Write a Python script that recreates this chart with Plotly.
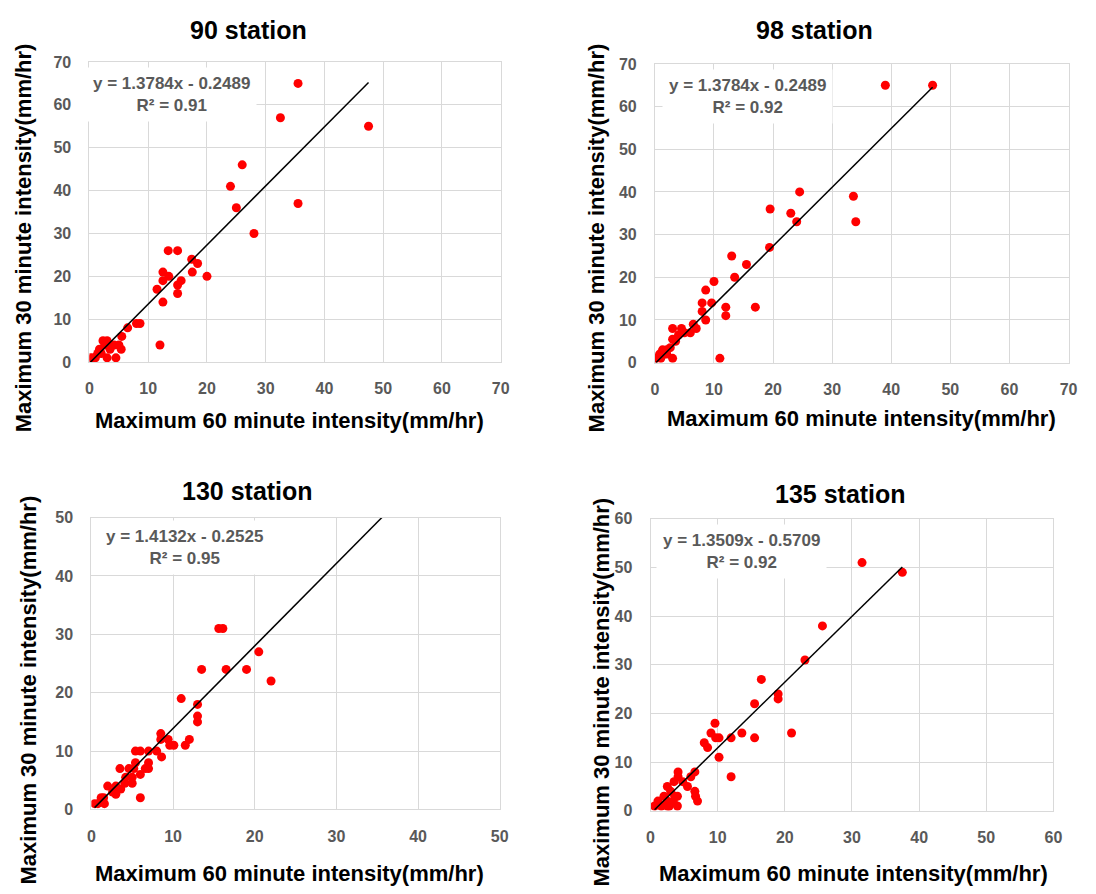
import plotly.graph_objects as go

W, H = 1096, 894

# ---- data -------------------------------------------------------------
stations = ["90 station", "98 station", "130 station", "135 station"]

x_90 = [35.5, 32.5, 47.5, 26.0, 24.0, 25.0, 35.5, 28.0, 13.4, 15.0, 17.4, 18.4,
        12.5, 17.5, 13.5, 20.0, 12.5, 15.6, 15.0, 11.5, 15.0, 12.5, 8.0, 8.6,
        6.5, 5.5, 12.0, 2.3, 3.0, 4.2, 5.4, 3.0, 4.5, 0.1, 0.6, 1.7, 1.4, 3.7,
        2.6, 1.0, 2.0, 3.5, 5.0]
y_90 = [65, 57, 55, 46, 41, 36, 37, 30, 26, 26, 24, 23,
        21, 21, 20, 20, 19, 19, 18, 17, 16, 14, 9, 9,
        8, 6, 4, 5, 5, 4, 3, 1, 1, 1, 1, 3, 2, 4,
        4, 1, 2, 3, 4]

x_98 = [39.0, 47.0, 24.5, 33.6, 34.0, 19.5, 23.0, 24.0, 19.4, 13.0, 15.5, 13.5,
        10.0, 8.6, 8.0, 9.6, 8.0, 8.6, 12.0, 12.0, 17.0, 11.0, 6.5, 7.0,
        3.0, 4.5, 6.0, 3.0, 4.0, 3.0, 0.8, 1.3, 0.2, 2.6, 2.0, 1.0, 2.0, 1.5,
        3.5, 5.0]
y_98 = [65, 65, 40, 39, 33, 36, 35, 33, 27, 25, 23, 20,
        19, 17, 14, 14, 12, 10, 13, 11, 13, 1, 9, 8,
        8, 8, 7, 5.5, 6.5, 1, 2, 3, 1, 3.5, 2, 1, 3, 2,
        5, 7]

x_130 = [15.6, 16.1, 20.5, 13.5, 16.5, 19.0, 22.0, 11.0, 13.0, 13.0, 13.0, 8.5,
         8.5, 9.4, 9.6, 10.1, 12.0, 11.5, 5.4, 6.0, 7.0, 8.0, 8.6, 5.4,
         7.0, 7.0, 3.5, 4.6, 6.0, 5.0, 5.0, 4.1, 6.0, 2.0, 3.0, 3.6, 2.6,
         1.2, 0.4, 1.6, 0.8, 4.2, 3.0, 5.2, 6.6, 1.5]
y_130 = [31, 31, 27, 24, 24, 24, 22, 19, 18, 16, 15, 13,
         12, 12, 11, 11, 12, 11, 10, 10, 10, 10, 9, 8,
         8, 7, 7, 7, 6, 5.5, 4.5, 4.5, 2, 4, 4, 3.5, 3,
         2, 1, 1, 1, 5.5, 2.6, 7, 7, 2]

x_135 = [31.5, 37.5, 25.6, 23.0, 16.5, 19.0, 19.0, 15.5, 21.0, 9.6, 9.0, 9.7,
         10.2, 12.0, 13.6, 15.5, 8.0, 8.5, 10.2, 12.0, 6.6, 6.0, 4.1, 4.1,
         3.5, 4.8, 5.5, 2.5, 6.6, 6.7, 7.0, 4.0, 4.0, 3.0, 2.0, 2.5, 1.1,
         0.6, 1.6, 2.5, 3.4, 3.6, 2.8]
y_135 = [51, 49, 38, 31, 27, 24, 23, 22, 16, 18, 16, 15,
         15, 15, 16, 15, 14, 13, 11, 7, 8, 7, 8, 7,
         6, 6, 5, 5, 4, 3, 2, 3, 1, 4, 3, 2, 2,
         1, 1, 1, 2, 3, 1]

x_values = [x_90, x_98, x_130, x_135]
y_values = [y_90, y_98, y_130, y_135]

# regression results shown on each chart
slopes = [1.3784, 1.3784, 1.4132, 1.3509]
intercepts = [-0.2489, -0.2489, -0.2525, -0.5709]
r_squared = ["0.91", "0.92", "0.95", "0.92"]
trend_x_start = [0.1, 0.2, 0.4, 0.6]
trend_x_end = [47.5, 47.0, 35.6, 37.5]

axis_max_x = [70, 70, 50, 60]
axis_max_y = [70, 70, 50, 60]
x_title = "Maximum 60 minute intensity(mm/hr)"
y_title = "Maximum 30 minute intensity(mm/hr)"

# ---- layout geometry (pixels) -----------------------------------------
def px(xp):
    return xp / W

def py(yp):
    return 1 - yp / H

# plot-area boxes: left, right, top, bottom
boxes = [(86.5, 502.7, 55.0, 361.0),
         (658.7, 1077.3, 57.0, 361.5),
         (88.4, 501.7, 519.5, 817.0),
         (654.3, 1062.0, 520.7, 818.4)]
title_pos = [(247, 22), (820, 22), (246, 492), (847, 495)]
xtitle_pos = [(289, 420), (868, 418), (289, 882), (860, 882)]
ytitle_pos = [(20, 234), (600, 234), (25, 695), (605, 697)]
eq_pos = [(170, 88), (752, 90), (183, 550), (746, 554)]

GRID = "#D9D9D9"
TICK = "#595959"
FONT = "Liberation Sans, Arial, sans-serif"

fig = go.Figure()
layout = dict(
    width=W, height=H, autosize=False,
    margin=dict(l=0, r=0, t=0, b=0),
    paper_bgcolor="white", plot_bgcolor="white",
    showlegend=False,
    annotations=[],
)

for i in range(4):
    n = "" if i == 0 else str(i + 1)
    xa, ya = "x" + n, "y" + n
    l, r, t, b = boxes[i]

    fig.add_trace(go.Scatter(
        x=x_values[i], y=y_values[i], mode="markers",
        marker=dict(color="#FF0000", size=9, line=dict(width=0)),
        xaxis=xa, yaxis=ya, hoverinfo="x+y",
    ))
    x0, x1 = trend_x_start[i], trend_x_end[i]
    fig.add_trace(go.Scatter(
        x=[x0, x1],
        y=[slopes[i] * x0 + intercepts[i], slopes[i] * x1 + intercepts[i]],
        mode="lines", line=dict(color="black", width=1.5),
        xaxis=xa, yaxis=ya, hoverinfo="skip",
    ))

    common = dict(
        showgrid=True, gridcolor=GRID, gridwidth=1,
        showline=True, linecolor=GRID, linewidth=1, mirror=True,
        zeroline=False, ticks="", dtick=10,
        tickfont=dict(family=FONT, size=16, color=TICK, weight="bold"),
    )
    layout["xaxis" + n] = dict(
        common, domain=[px(l), px(r)], range=[0, axis_max_x[i]],
        anchor=ya, ticklabelstandoff=12,
    )
    layout["yaxis" + n] = dict(
        common, domain=[py(b), py(t)], range=[0, axis_max_y[i]],
        anchor=xa, ticklabelstandoff=14,
    )

    sign = "-" if intercepts[i] < 0 else "+"
    eq = f"y = {slopes[i]:.4f}x {sign} {abs(intercepts[i]):.4f}<br>R² = {r_squared[i]}"
    ex, ey = eq_pos[i]
    layout["annotations"].append(dict(
        text=eq, xref="paper", yref="paper", x=px(ex), y=py(ey),
        xanchor="center", yanchor="middle", showarrow=False,
        align="center", bgcolor="white", borderpad=6,
        font=dict(family=FONT, size=17, color=TICK, weight="bold"),
    ))
    tx, ty = title_pos[i]
    layout["annotations"].append(dict(
        text=stations[i], xref="paper", yref="paper", x=px(tx), y=py(ty),
        xanchor="center", yanchor="middle", showarrow=False,
        font=dict(family=FONT, size=25, color="black", weight="bold"),
    ))
    xx, xy = xtitle_pos[i]
    layout["annotations"].append(dict(
        text=x_title, xref="paper", yref="paper", x=px(xx), y=py(xy),
        xanchor="center", yanchor="middle", showarrow=False,
        font=dict(family=FONT, size=22, color="black", weight="bold"),
    ))
    yx, yy = ytitle_pos[i]
    layout["annotations"].append(dict(
        text=y_title, xref="paper", yref="paper", x=px(yx), y=py(yy),
        xanchor="center", yanchor="middle", showarrow=False, textangle=-90,
        font=dict(family=FONT, size=22, color="black", weight="bold"),
    ))

fig.update_layout(**layout)
fig.write_html("out.html")
